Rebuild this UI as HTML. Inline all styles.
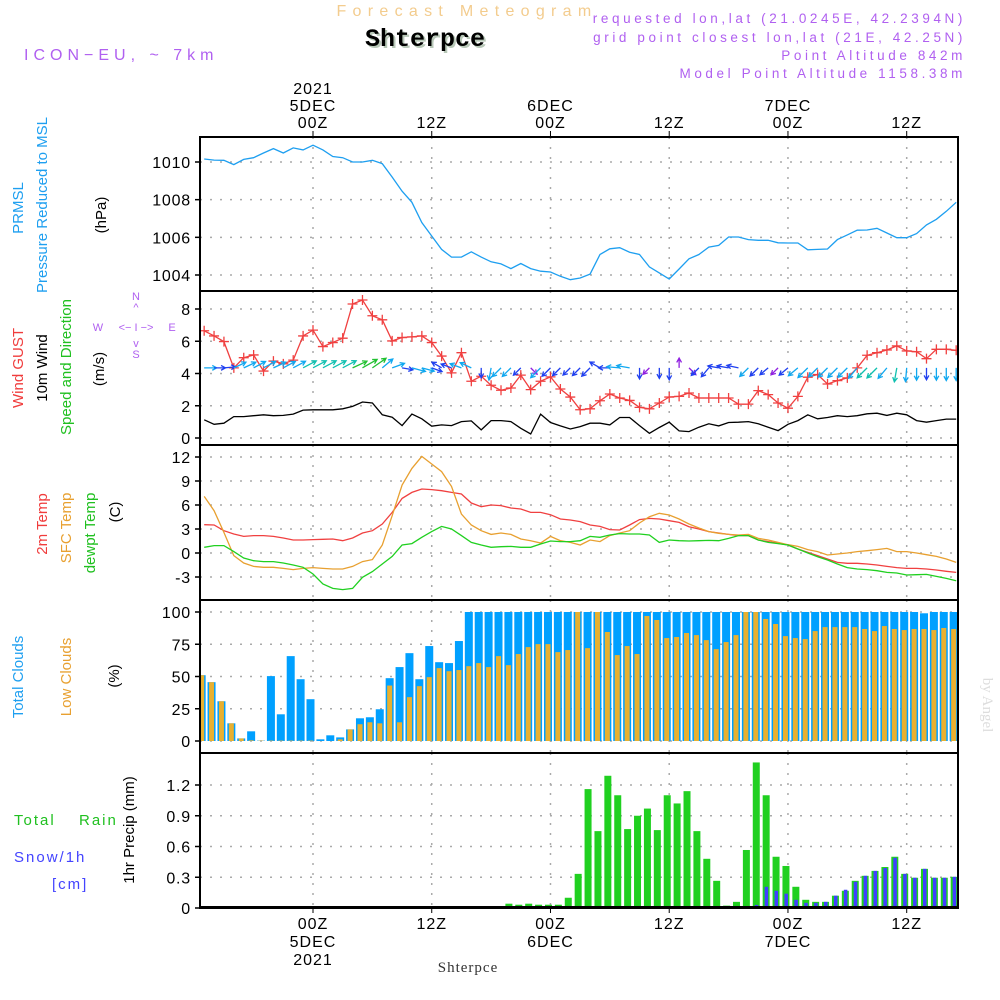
<!DOCTYPE html>
<html><head><meta charset="utf-8"><title>Meteogram Shterpce</title>
<style>
html,body{margin:0;padding:0;background:#fff;}
svg{display:block;font-family:"Liberation Sans",sans-serif;}
</style></head>
<body>
<svg id="chart" width="1000" height="1000" viewBox="0 0 1000 1000" xmlns="http://www.w3.org/2000/svg">
<rect width="1000" height="1000" fill="#fff"/>
<g id="header">
<text x="467" y="16" text-anchor="middle" font-size="16" letter-spacing="6.3" fill="#f3cc8e">Forecast Meteogram</text>
<text x="427" y="48" text-anchor="middle" font-family="Liberation Mono,monospace" font-weight="bold" font-size="25" fill="#b8c8b8">Shterpce</text>
<text x="425" y="46" text-anchor="middle" font-family="Liberation Mono,monospace" font-weight="bold" font-size="25" fill="#000">Shterpce</text>
<text x="24" y="60" font-size="16" letter-spacing="5" fill="#b060f0">ICON−EU, ~ 7km</text>
<text x="966" y="23" text-anchor="end" font-size="13.5" letter-spacing="3.6" fill="#b060f0">requested lon,lat (21.0245E, 42.2394N)</text>
<text x="966" y="42" text-anchor="end" font-size="13.5" letter-spacing="3.6" fill="#b060f0">grid point closest lon,lat (21E, 42.25N)</text>
<text x="966" y="60" text-anchor="end" font-size="13.5" letter-spacing="3.6" fill="#b060f0">Point Altitude 842m</text>
<text x="966" y="78" text-anchor="end" font-size="13.5" letter-spacing="3.6" fill="#b060f0">Model Point Altitude 1158.38m</text>
<text x="468" y="972" text-anchor="middle" font-family="Liberation Serif,serif" font-size="15" letter-spacing="1" fill="#333">Shterpce</text>
<text transform="translate(983,705) rotate(90)" text-anchor="middle" font-family="Liberation Serif,serif" font-size="15" fill="#ddd">by Angel</text>
</g>
<g id="labels" font-size="15">
<text transform="translate(23,208) rotate(-90)" text-anchor="middle" fill="#1e9ff0">PRMSL</text>
<text transform="translate(47,205) rotate(-90)" text-anchor="middle" fill="#1e9ff0">Pressure Reduced to MSL</text>
<text transform="translate(106,215) rotate(-90)" text-anchor="middle" fill="#000">(hPa)</text>
<text transform="translate(23,368) rotate(-90)" text-anchor="middle" fill="#f03c3c">Wind GUST</text>
<text transform="translate(47,368) rotate(-90)" text-anchor="middle" fill="#000">10m Wind</text>
<text transform="translate(71,367) rotate(-90)" text-anchor="middle" fill="#20c020">Speed and Direction</text>
<text transform="translate(104,369) rotate(-90)" text-anchor="middle" fill="#000">(m/s)</text>
<g fill="#b060f0" font-size="11" text-anchor="middle">
<text x="136" y="300">N</text><text x="136" y="311">^</text>
<text x="98" y="331">W</text><text x="136" y="331">&lt;− I −&gt;</text><text x="172" y="331">E</text>
<text x="136" y="347">v</text><text x="136" y="358">S</text>
</g>
<text transform="translate(47,524) rotate(-90)" text-anchor="middle" fill="#f03c3c">2m Temp</text>
<text transform="translate(71,528) rotate(-90)" text-anchor="middle" fill="#e8a030">SFC Temp</text>
<text transform="translate(95,533) rotate(-90)" text-anchor="middle" fill="#20c020">dewpt Temp</text>
<text transform="translate(120,512) rotate(-90)" text-anchor="middle" fill="#000">(C)</text>
<text transform="translate(23,677) rotate(-90)" text-anchor="middle" fill="#1e9ff0">Total Clouds</text>
<text transform="translate(71,677) rotate(-90)" text-anchor="middle" fill="#e8a030">Low Clouds</text>
<text transform="translate(119,676) rotate(-90)" text-anchor="middle" fill="#000">(%)</text>
<text x="14" y="825" fill="#20c020" letter-spacing="2">Total</text>
<text x="79" y="825" fill="#20c020" letter-spacing="2">Rain</text>
<text x="14" y="862" fill="#4444ff" letter-spacing="2">Snow/1h</text>
<text x="52" y="889" fill="#4444ff" letter-spacing="2">[cm]</text>
<text transform="translate(134,830) rotate(-90)" text-anchor="middle" fill="#000">1hr Precip (mm)</text>
</g>
<g id="plot"></g>
</svg>
<script>
// ---- data (hour index relative to 00Z 5 DEC, from -11 to 65) ----
const hours = []; for (let h = -11; h <= 65; h++) hours.push(h);
const pressure = [1010.16,1010.1,1010.09,1009.86,1010.14,1010.23,1010.48,1010.71,1010.48,1010.75,1010.64,1010.89,1010.64,1010.29,1010.23,1010,1010,1010.09,1009.91,1009.2,1008.45,1007.86,1006.79,1006.07,1005.36,1004.95,1004.95,1005.23,1004.95,1004.7,1004.59,1004.34,1004.61,1004.34,1004.2,1004.16,1003.93,1003.75,1003.84,1004.05,
1005.09,1005.39,1005.45,1005.21,1005.09,1004.43,1004.11,1003.79,1004.32,1004.86,1005.09,1005.48,1005.57,1006.02,1006.02,1005.88,1005.84,1005.84,1005.71,1005.7,1005.7,1005.34,1005.36,1005.38,1005.88,1006.13,1006.38,1006.39,1006.48,1006.23,1005.98,1005.98,1006.2,1006.66,1006.96,1007.38,1007.86];
const gust = [6.65,6.33,5.98,4.35,4.98,5.15,4.15,4.77,4.6,4.83,6.33,6.69,5.67,5.92,6.19,8.31,8.56,7.58,7.33,6.02,6.23,6.27,6.33,5.92,5.08,4.04,5.29,3.52,3.83,3.27,2.96,3.1,3.9,3.0,3.52,3.79,3.04,2.54,1.75,1.81,
2.31,2.73,2.48,2.33,1.9,1.81,2.17,2.54,2.58,2.79,2.48,2.48,2.48,2.48,2.1,2.1,2.94,2.69,2.17,1.85,2.58,3.77,3.94,3.35,3.56,3.73,4.35,5.13,5.29,5.46,5.71,5.4,5.35,4.92,5.5,5.5,5.44];
const wind10m = [1.13,0.85,0.92,1.33,1.33,1.38,1.44,1.38,1.4,1.48,1.73,1.75,1.75,1.75,1.81,1.96,2.23,2.17,1.44,1.29,0.77,1.48,1.19,0.73,0.81,0.77,1.02,1.06,0.5,1.08,1.08,1.02,0.6,0.25,1.48,0.96,0.75,0.56,0.71,0.92,
0.92,0.81,1.27,1.27,0.77,0.29,0.65,0.98,0.44,0.4,0.67,0.88,0.75,0.96,0.98,1.02,0.88,0.67,0.46,0.85,1.08,1.44,1.19,1.27,1.38,1.33,1.38,1.5,1.54,1.4,1.54,1.44,1.08,0.98,1.08,1.17,1.17];
// arrow direction on screen, degrees counter-clockwise from east
const windDir = [0,0,5,25,25,28,28,25,28,28,28,28,28,28,28,25,30,35,40,20,-10,-15,-15,-20,150,160,160,155,-90,-100,-135,-135,-135,-45,-135,-135,-135,-135,-135,-135,
150,180,175,170,-90,-135,-90,-90,90,-45,-135,-130,170,170,168,-135,-135,-140,-135,-140,-140,-135,-135,-135,-135,-135,-130,-135,-135,-130,-100,-95,-90,-90,-90,-90,-90];
const temp2m = [3.54,3.5,2.79,2.38,2.08,2.17,2.17,2.08,1.88,1.63,1.63,1.67,1.71,1.75,1.54,1.88,2.5,2.79,3.63,5.08,6.83,7.58,8.0,7.92,7.79,7.58,7.38,6.25,5.79,6.0,5.92,5.63,5.5,5.08,5.08,4.79,4.25,4.13,3.92,3.5,
3.33,2.92,2.88,3.5,4.17,4.33,4.25,4.04,3.83,3.29,3.0,2.67,2.5,2.33,2.17,2.17,1.63,1.42,1.21,1.0,0.5,0.08,-0.33,-0.75,-1.17,-1.29,-1.29,-1.38,-1.5,-1.67,-1.83,-1.92,-1.92,-2.0,-2.13,-2.29,-2.42];
const sfcTemp = [7.08,5.29,2.58,-0.33,-1.25,-1.67,-1.79,-1.79,-1.92,-2.08,-1.92,-1.83,-1.92,-2.0,-2.0,-1.67,-1.08,-0.83,1.0,4.67,8.5,10.58,12.08,11.13,10.17,8.33,4.88,3.5,2.79,2.33,2.5,2.33,1.75,1.54,1.25,2.08,1.54,1.33,1.0,1.63,
1.42,2.17,2.5,2.79,3.75,4.54,4.96,4.75,4.25,3.63,3.13,2.67,2.46,2.33,2.25,2.33,1.83,1.63,1.33,1.04,0.83,0.42,0.17,-0.25,-0.13,0,0.17,0.29,0.42,0.58,0.17,0.17,0,-0.21,-0.42,-0.75,-1.17];
const dewpt = [0.71,0.92,0.92,0.17,-0.63,-0.96,-1.08,-1.08,-1.25,-1.5,-1.79,-2.63,-3.88,-4.42,-4.58,-4.42,-3.04,-2.33,-1.38,-0.42,1.0,1.17,1.96,2.67,3.33,3.0,2.17,1.33,1.0,0.71,0.79,0.83,0.71,0.71,1.13,1.5,1.42,1.42,1.54,2.08,
1.96,2.25,2.42,2.38,2.38,2.25,1.33,1.63,1.54,1.5,1.54,1.58,1.54,1.83,2.17,2.17,1.63,1.33,1.17,1.0,0.5,0,-0.46,-0.88,-1.38,-1.83,-2.0,-2.08,-2.21,-2.42,-2.5,-2.75,-2.71,-2.67,-2.92,-3.17,-3.46];
const totalClouds = [51,45.6,30.8,13.7,2,7.5,0.3,50.3,20.7,65.8,47.9,32.4,1.3,4.4,2.8,9,17.6,18.4,24.6,48.7,57.3,68.1,47.9,73.6,61.1,60.4,77.5,100,100,100,100,100,100,100,100,100,100,100,100,100,
100,100,100,100,100,100,100,100,100,100,100,100,100,100,100,100,100,100,100,100,100,100,100,100,100,100,100,100,100,100,100,100,100,99,100,100,100];
const lowClouds = [51,45.6,30.8,13.7,2,0.5,0.3,0.3,0.3,0.3,0.3,0.3,0,0,1.3,9,13,14.5,13.7,43,14.5,34,42.5,49.5,56.5,54.1,55,58,60.4,57.3,65.8,58.8,67.4,72.8,75.1,75.1,68.9,70.5,100,72,
100,84.5,66.6,73.6,67.4,96.9,93.8,79.8,80.6,83.7,82.1,78.2,71.2,76.7,82.1,100,100,94.6,90.7,81.3,79.8,79,85.2,88.3,88.3,88.3,88.3,86.8,85.2,89.1,86.8,86,86.8,86.8,86,87.6,86.8];
const rain = [0,0,0,0,0,0,0,0,0,0,0,0,0,0,0,0,0,0,0,0,0,0,0,0,0,0,0,0,0,0,0,0.042,0.032,0.042,0.032,0.032,0.032,0.1,0.333,1.16,
0.75,1.29,1.1,0.77,0.9,0.97,0.76,1.1,1.02,1.14,0.75,0.48,0.265,0.023,0.06,0.566,1.42,1.1,0.5,0.41,0.207,0.08,0.06,0.06,0.12,0.168,0.265,0.314,0.362,0.4,0.5,0.333,0.295,0.382,0.295,0.295,0.304];
const snow = [0,0,0,0,0,0,0,0,0,0,0,0,0,0,0,0,0,0,0,0,0,0,0,0,0,0,0,0,0,0,0,0,0,0,0,0,0,0,0,0,
0,0,0,0,0,0,0,0,0,0,0,0,0,0,0,0,0.03,0.207,0.168,0.14,0.08,0.05,0.05,0.06,0.12,0.178,0.256,0.314,0.362,0.39,0.49,0.333,0.295,0.382,0.295,0.295,0.304];
const timeTicks = [0,12,24,36,48,60];
const topLabels = [["2021","5DEC","00Z"],["12Z"],["6DEC","00Z"],["12Z"],["7DEC","00Z"],["12Z"]];
const bottomLabels = [["00Z","5DEC","2021"],["12Z"],["00Z","6DEC"],["12Z"],["00Z","7DEC"],["12Z"]];
const pressureTicks = [1004,1006,1008,1010];
const windTicks = [0,2,4,6,8];
const tempTicks = [-3,0,3,6,9,12];
const cloudTicks = [0,25,50,75,100];
const precipTicks = [0,0.3,0.6,0.9,1.2];
const precipTickLabels = ["0","0.3","0.6","0.9","1.2"];

// ---- scales ----
const X0 = 200, X1 = 958;
const xS = h => 313 + h * 9.895;
const lin = (d0, d1, r0, r1) => v => r0 + (v - d0) * (r1 - r0) / (d1 - d0);
const yP = lin(1004, 1010, 275, 162);
const yW = lin(0, 8, 438, 309);
const yT = lin(-3, 12, 577, 457);
const yC = lin(0, 100, 741, 612);
const yR = lin(0, 1.2, 908, 785);
const panels = [[137,291],[291,445],[445,600],[600,753],[753,908]];

const NS = "http://www.w3.org/2000/svg";
const plot = document.getElementById("plot");
function mk(tag, attrs, parent) {
  const e = document.createElementNS(NS, tag);
  for (const k in attrs) e.setAttribute(k, attrs[k]);
  (parent || plot).appendChild(e);
  return e;
}
function txt(s, attrs, parent) { const t = mk("text", attrs, parent); t.textContent = s; return t; }

// grid lines
const grid = mk("g", {stroke:"#aaa", "stroke-width":"1.5", "stroke-dasharray":"2,8"});


timeTicks.forEach(h => {
  panels.forEach(p => { mk("line", {x1:xS(h), x2:xS(h), y1:p[0], y2:p[1]}, grid); });
});
function hgrid(ticks, ys) { ticks.forEach(v => mk("line", {x1:X0, x2:X1, y1:ys(v), y2:ys(v)}, grid)); }
hgrid(pressureTicks, yP); hgrid(windTicks, yW); hgrid(tempTicks, yT); hgrid(cloudTicks, yC); hgrid(precipTicks, yR);

// tick labels
const tl = mk("g", {"font-size":"16", fill:"#000", "text-anchor":"end", "letter-spacing":"0.8"});


function yticks(ticks, ys, labels) {
  ticks.forEach((v, i) => {
    txt(labels ? labels[i] : String(v), {x:191, y:ys(v) + 6}, tl);
    mk("line", {x1:195, x2:200, y1:ys(v), y2:ys(v), stroke:"#000", "stroke-width":"1.5"}, tl);
  });
}
yticks(pressureTicks, yP); yticks(windTicks, yW); yticks(tempTicks, yT); yticks(cloudTicks, yC); yticks(precipTicks, yR, precipTickLabels);

const xl = mk("g", {"font-size":"16", fill:"#000", "text-anchor":"middle", "letter-spacing":"1"});


timeTicks.forEach((h, i) => {
  const tp = topLabels[i];
  tp.forEach((s, j) => txt(s, {x:xS(h), y:128 - (tp.length - 1 - j) * 17}, xl));
  mk("line", {x1:xS(h), x2:xS(h), y1:131, y2:137, stroke:"#000"}, xl);
  bottomLabels[i].forEach((s, j) => txt(s, {x:xS(h), y:929 + j * 18}, xl));
  mk("line", {x1:xS(h), x2:xS(h), y1:908, y2:913, stroke:"#000"}, xl);
});

// clip
const defs = mk("defs", {});
const cp = mk("clipPath", {id:"clip"}, defs);
mk("rect", {x:X0, y:137, width:X1 - X0, height:771}, cp);
const data = mk("g", {"clip-path":"url(#clip)"});



// cloud bars
hours.forEach((h, i) => {
  const c = xS(h) - 2.5;
  const b = mk("rect", {x:c - 4, y:yC(totalClouds[i]), width:8, height:yC(0) - yC(totalClouds[i]), fill:"#00a0ff"}, data);
  
  
  const o = mk("rect", {x:c - 2.5, y:yC(lowClouds[i]), width:5, height:yC(0) - yC(lowClouds[i]), fill:"#e8b030"}, data);
  
  
});
// precip bars
hours.forEach((h, i) => {
  const c = xS(h) - 2;
  if (rain[i] > 0) {
    const b = mk("rect", {x:c - 3.5, y:yR(rain[i]), width:7, height:yR(0) - yR(rain[i]), fill:"#20d020"}, data);
    
    
  }
  if (snow[i] > 0) {
    const s = mk("rect", {x:c - 1.5, y:yR(snow[i]), width:3.5, height:yR(0) - yR(snow[i]), fill:"#4040ff"}, data);
    
    
  }
});
mk("line", {x1:X0, x2:X1, y1:907, y2:907, stroke:"#000", "stroke-width":"2"}, data);

function line(vals, ys, color, name) {
  const pts = hours.map((h, i) => xS(h).toFixed(1) + "," + ys(vals[i]).toFixed(1)).join(" ");
  const p = mk("polyline", {points:pts, fill:"none", stroke:color, "stroke-width":"1.3"}, data);
  
  
}
line(pressure, yP, "#1e9ff0", "pressure-line");
line(wind10m, yW, "#000", "wind10m-line");
line(temp2m, yT, "#f04040", "temp2m-line");
line(sfcTemp, yT, "#e8a030", "sfc-temp-line");
line(dewpt, yT, "#20d020", "dewpt-line");
line(gust, yW, "#f04040", "gust-line");
hours.forEach((h, i) => {
  const x = xS(h), y = yW(gust[i]);
  const m = mk("path", {d:`M${x-5},${y}H${x+5}M${x},${y-5}V${y+5}`, stroke:"#f04040", "stroke-width":"1.3"}, data);
  
  
});
// wind arrows
hours.forEach((h, i) => {
  const s = wind10m[i];
  const col = s < 0.5 ? "#9020e0" : s < 1.0 ? "#2040f0" : s < 1.5 ? "#10a8f0" : s < 1.9 ? "#10c0b0" : "#20c030";
  const L = 8 + s * 4;
  const a = windDir[i] * Math.PI / 180;
  const x0 = xS(h), y0 = yW(4.35);
  const x1 = x0 + L * Math.cos(a), y1 = y0 - L * Math.sin(a);
  const ha = 0.5, hl = 5;
  const bx = -Math.cos(a), by = Math.sin(a);
  const hx1 = x1 + hl * (bx * Math.cos(ha) - by * Math.sin(ha)), hy1 = y1 + hl * (bx * Math.sin(ha) + by * Math.cos(ha));
  const hx2 = x1 + hl * (bx * Math.cos(-ha) - by * Math.sin(-ha)), hy2 = y1 + hl * (bx * Math.sin(-ha) + by * Math.cos(-ha));
  const p = mk("path", {d:`M${x0},${y0}L${x1},${y1}M${hx1},${hy1}L${x1},${y1}L${hx2},${hy2}`, stroke:col, "stroke-width":"1.3", fill:"none"}, data);
  
  
});

// panel frames
panels.forEach(p => {
  const r = mk("rect", {x:X0, y:p[0], width:X1 - X0, height:p[1] - p[0], fill:"none", stroke:"#000", "stroke-width":"2"});
  
  
});
</script>
</body></html>
